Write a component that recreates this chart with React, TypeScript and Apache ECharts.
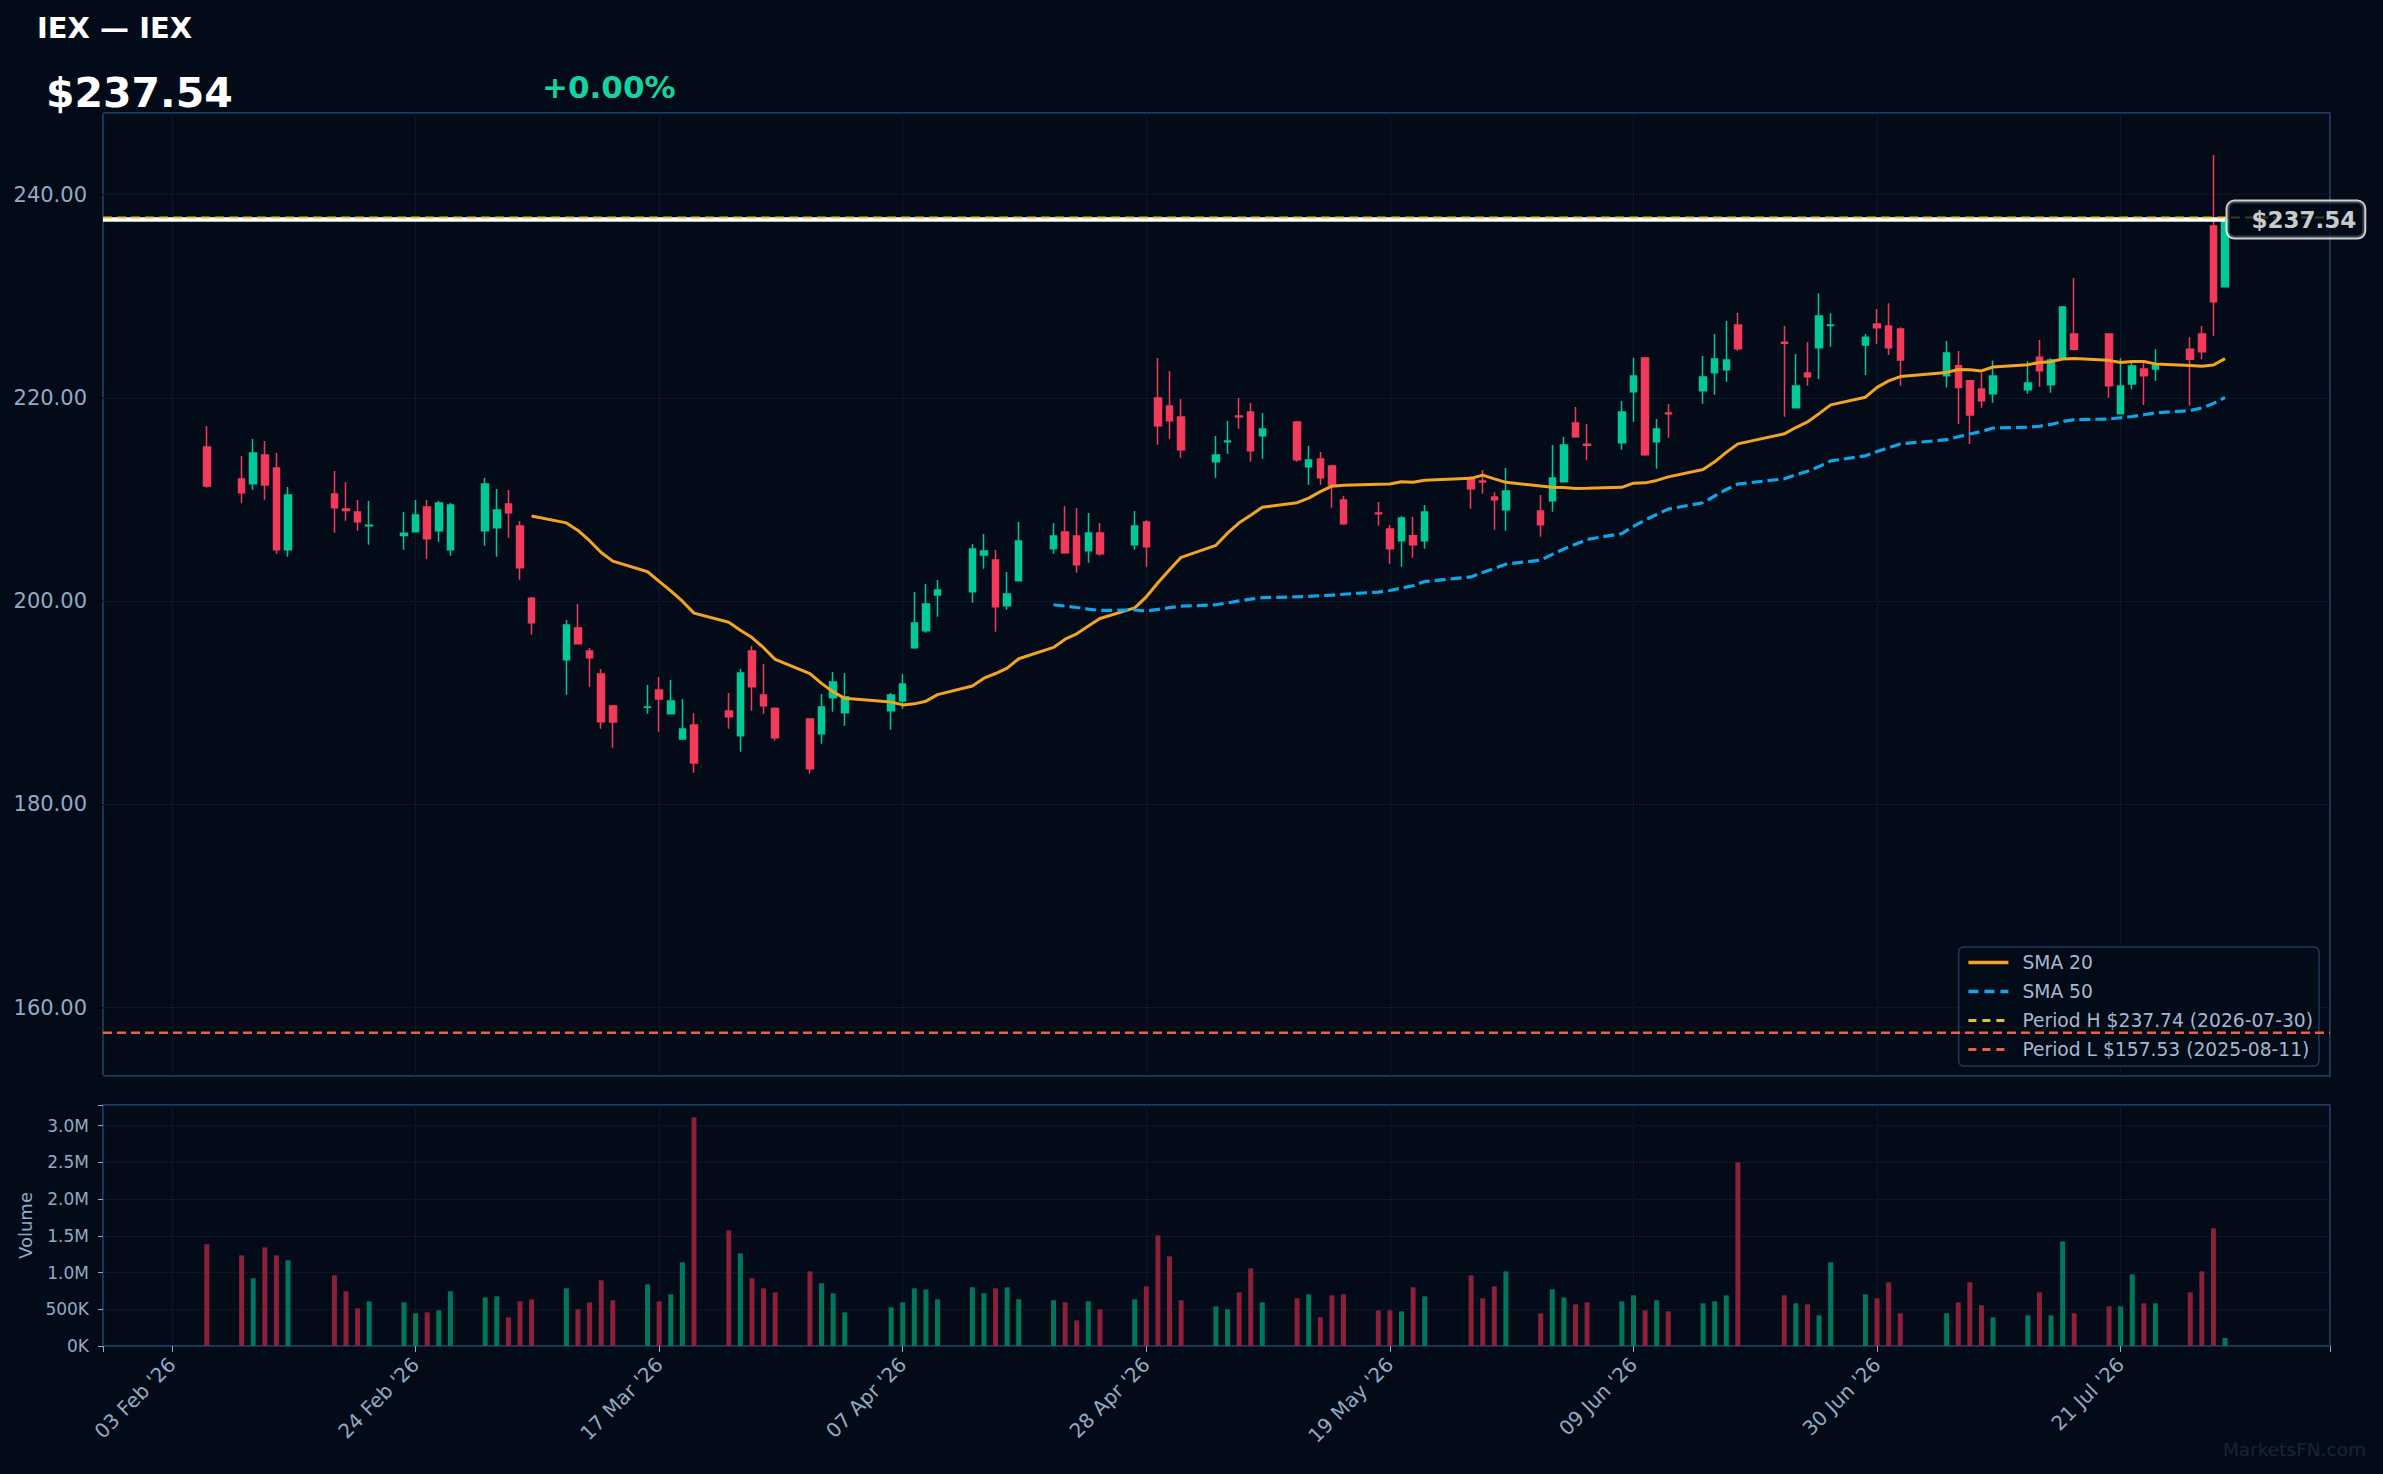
import React, { useEffect, useRef } from 'react';
import * as echarts from 'echarts';

// ---------- data ----------
const DATES = [
  '2026-02-06','2026-02-09','2026-02-10','2026-02-11','2026-02-12','2026-02-13','2026-02-17','2026-02-18','2026-02-19','2026-02-20','2026-02-23','2026-02-24','2026-02-25','2026-02-26','2026-02-27',
  '2026-03-02','2026-03-03','2026-03-04','2026-03-05','2026-03-06','2026-03-09','2026-03-10','2026-03-11','2026-03-12','2026-03-13','2026-03-16','2026-03-17','2026-03-18','2026-03-19','2026-03-20','2026-03-23','2026-03-24','2026-03-25','2026-03-26','2026-03-27','2026-03-30','2026-03-31',
  '2026-04-01','2026-04-02','2026-04-06','2026-04-07','2026-04-08','2026-04-09','2026-04-10','2026-04-13','2026-04-14','2026-04-15','2026-04-16','2026-04-17','2026-04-20','2026-04-21','2026-04-22','2026-04-23','2026-04-24','2026-04-27','2026-04-28','2026-04-29','2026-04-30',
  '2026-05-01','2026-05-04','2026-05-05','2026-05-06','2026-05-07','2026-05-08','2026-05-11','2026-05-12','2026-05-13','2026-05-14','2026-05-15','2026-05-18','2026-05-19','2026-05-20','2026-05-21','2026-05-22','2026-05-26','2026-05-27','2026-05-28','2026-05-29',
  '2026-06-01','2026-06-02','2026-06-03','2026-06-04','2026-06-05','2026-06-08','2026-06-09','2026-06-10','2026-06-11','2026-06-12','2026-06-15','2026-06-16','2026-06-17','2026-06-18','2026-06-22','2026-06-23','2026-06-24','2026-06-25','2026-06-26','2026-06-29','2026-06-30',
  '2026-07-01','2026-07-02','2026-07-06','2026-07-07','2026-07-08','2026-07-09','2026-07-10','2026-07-13','2026-07-14','2026-07-15','2026-07-16','2026-07-17','2026-07-20','2026-07-21','2026-07-22','2026-07-23','2026-07-24','2026-07-27','2026-07-28','2026-07-29','2026-07-30',
];

const OPEN = [
  215.16, 212.01, 211.55, 214.37, 213.09, 205.05, 210.53, 209.05, 208.76, 207.40, 206.46, 206.82, 209.25, 206.92, 205.05,
  206.92, 207.22, 209.55, 207.38, 200.27, 194.23, 197.35, 195.08, 192.82, 189.67, 189.54, 191.25, 188.92, 186.42, 187.80, 189.18, 186.75, 195.08, 190.75, 189.44, 188.39, 186.95,
  190.49, 189.02, 189.21, 190.16, 195.41, 197.08, 200.59, 200.92, 204.53, 204.04, 199.55, 202.00, 205.15, 206.79, 206.40, 204.96, 206.69, 205.55, 207.78, 219.98, 219.19,
  218.11, 213.71, 215.68, 218.21, 218.60, 216.27, 217.62, 213.22, 213.98, 213.29, 209.94, 208.66, 207.09, 205.94, 206.43, 205.94, 212.04, 211.81, 210.24, 208.99,
  208.86, 209.88, 211.75, 217.52, 215.42, 215.58, 220.60, 223.91, 215.68, 218.50, 220.70, 222.47, 222.77, 227.16, 225.46, 219.03, 222.44, 224.93, 227.10, 225.19, 227.26,
  227.06, 226.77, 222.18, 223.16, 221.68, 220.86, 220.40, 220.80, 223.98, 221.29, 223.88, 226.28, 226.28, 218.44, 221.36, 222.83, 222.83, 224.77, 226.28, 236.90, 230.93,
];

const HIGH = [
  217.22, 214.27, 215.94, 215.75, 214.57, 211.22, 212.79, 211.71, 209.94, 209.84, 208.76, 209.94, 209.94, 209.84, 209.65,
  212.11, 211.02, 210.92, 207.87, 200.40, 198.13, 199.71, 195.38, 193.31, 189.77, 191.74, 192.52, 192.23, 190.36, 188.95, 190.95, 193.31, 195.57, 193.80, 189.54, 188.46, 190.85,
  193.02, 192.92, 190.95, 192.82, 200.89, 201.67, 202.07, 205.61, 206.60, 205.02, 202.86, 207.78, 207.68, 209.35, 209.15, 208.66, 207.68, 208.86, 207.97, 223.91, 222.63,
  219.88, 216.24, 217.71, 219.98, 219.49, 218.50, 217.71, 215.29, 214.66, 213.42, 210.33, 209.75, 207.48, 208.37, 208.27, 209.45, 212.30, 212.89, 210.70, 213.09,
  210.43, 215.35, 216.14, 219.09, 217.42, 219.68, 223.91, 224.01, 217.91, 219.39, 224.11, 226.27, 227.55, 228.34, 227.06, 224.31, 225.46, 230.28, 228.31, 226.28, 228.74,
  229.29, 226.93, 225.59, 224.60, 221.75, 222.47, 223.68, 223.62, 225.69, 223.88, 229.03, 231.79, 226.34, 223.88, 223.72, 223.46, 224.77, 225.95, 227.06, 243.89, 237.74,
];

const LOW = [
  211.15, 209.68, 210.96, 209.97, 204.66, 204.37, 206.73, 207.91, 206.92, 205.55, 205.05, 206.75, 204.17, 205.84, 204.46,
  205.45, 204.37, 206.23, 202.10, 196.69, 190.79, 195.74, 191.57, 187.44, 185.57, 188.92, 187.15, 188.85, 186.35, 183.11, 187.44, 185.18, 189.21, 188.92, 186.26, 183.01, 185.97,
  189.11, 187.74, 187.34, 189.41, 195.30, 196.89, 198.46, 199.84, 203.18, 196.99, 199.15, 201.95, 204.66, 204.66, 202.79, 203.78, 204.46, 205.05, 203.38, 215.39, 215.98,
  214.11, 212.14, 214.50, 216.96, 213.71, 214.01, 213.71, 211.45, 211.45, 209.19, 207.50, 207.42, 203.68, 203.38, 204.27, 205.15, 209.09, 210.56, 207.02, 206.92,
  206.33, 208.79, 211.65, 216.07, 213.85, 214.89, 217.65, 214.30, 213.02, 216.07, 219.42, 220.31, 221.58, 224.63, 218.14, 218.95, 221.19, 221.85, 225.03, 222.24, 225.29,
  224.21, 221.19, 221.00, 217.42, 215.45, 219.03, 219.52, 220.40, 221.09, 220.50, 223.80, 224.64, 220.01, 218.40, 220.83, 219.29, 221.68, 219.22, 223.78, 226.11, 230.85,
];

const CLOSE = [
  211.32, 210.66, 214.57, 211.42, 205.05, 210.43, 209.19, 208.92, 207.81, 207.45, 206.66, 208.46, 206.14, 209.65, 209.45,
  211.51, 208.96, 208.69, 203.28, 197.87, 197.64, 195.80, 194.43, 188.13, 188.10, 189.57, 190.36, 190.16, 187.41, 184.06, 188.62, 192.92, 191.57, 189.70, 186.56, 183.51, 189.57,
  192.03, 190.59, 190.75, 191.84, 197.84, 199.71, 201.08, 205.12, 204.92, 199.45, 200.69, 205.91, 206.40, 204.76, 203.58, 206.69, 204.66, 207.38, 205.35, 217.26, 217.75,
  214.89, 214.37, 215.75, 218.14, 214.79, 216.93, 213.91, 213.88, 212.14, 211.42, 207.61, 208.60, 205.15, 208.17, 205.55, 208.76, 211.06, 211.71, 209.97, 210.83,
  207.52, 212.11, 215.35, 216.17, 215.32, 218.60, 222.14, 214.40, 216.93, 218.44, 222.04, 223.81, 223.72, 224.83, 225.36, 221.16, 222.08, 228.05, 227.16, 225.95, 226.90,
  224.93, 223.72, 224.41, 221.00, 218.31, 219.72, 222.14, 221.45, 222.67, 223.72, 228.93, 224.77, 221.19, 221.16, 223.13, 222.18, 223.23, 223.78, 224.54, 229.46, 237.54,
];

const VOLUME = [
  1384000, 1234000, 921000, 1343000, 1234000, 1166000, 962000, 744000, 513000, 608000, 594000, 445000, 458000, 485000, 744000,
  662000, 676000, 390000, 608000, 635000, 785000, 499000, 594000, 894000, 622000, 839000, 608000, 703000, 1139000, 3113000, 1574000, 1261000, 921000, 785000, 730000, 1016000, 853000,
  717000, 458000, 526000, 594000, 785000, 771000, 635000, 799000, 717000, 785000, 799000, 635000, 622000, 594000, 349000, 608000, 499000, 635000, 812000, 1506000, 1220000,
  622000, 540000, 499000, 730000, 1057000, 594000, 649000, 703000, 390000, 690000, 703000, 485000, 485000, 472000, 799000, 676000, 962000, 649000, 812000, 1016000,
  445000, 771000, 662000, 567000, 594000, 608000, 690000, 485000, 622000, 472000, 581000, 608000, 690000, 2500000, 690000, 581000, 567000, 417000, 1139000, 703000, 649000,
  867000, 445000, 445000, 594000, 867000, 554000, 390000, 417000, 730000, 417000, 1425000, 445000, 540000, 540000, 976000, 581000, 581000, 730000, 1016000, 1602000, 109000,
];

const X_TICK_LABELS = ["03 Feb '26", "24 Feb '26", "17 Mar '26", "07 Apr '26", "28 Apr '26", "19 May '26", "09 Jun '26", "30 Jun '26", "21 Jul '26"];
const PRICE_TICKS = [160, 180, 200, 220, 240];
const VOLUME_TICKS = [0, 500000, 1000000, 1500000, 2000000, 2500000, 3000000];
const VOLUME_TICK_LABELS = ['0K', '500K', '1.0M', '1.5M', '2.0M', '2.5M', '3.0M'];

const TICKER = 'IEX — IEX';
const LAST_PRICE = 237.54;
const CHANGE_TEXT = '+0.00%';
const PERIOD_HIGH = 237.74;
const PERIOD_HIGH_DATE = '2026-07-30';
const PERIOD_LOW = 157.53;
const PERIOD_LOW_DATE = '2025-08-11';

// ---------- styles ----------
const BG = '#020b17';
const UP = '#00c896';
const DOWN = '#f23a5b';
const VOL_UP = '#00765a';
const VOL_DOWN = '#8c1f3a';
const LABEL = '#93aac4';
const BORDER = '#1e3a5c';
const GRIDLINE = '#13233a';
const FONT = 'DejaVu Sans';
const C_SMA20 = '#f5a422';
const C_SMA50 = '#0ea5e9';
const C_HIGH = '#e0c230';
const C_LOW = '#e8643c';

const EPOCH = Date.UTC(2026, 1, 3);
const dayNum = (s: string) => {
  const [y, m, d] = s.split('-').map(Number);
  return Math.round((Date.UTC(y, m - 1, d) - EPOCH) / 86400000);
};
const X = DATES.map(dayNum);
const X_MIN = -5.95;
const X_MAX = 186.05;

const sma = (vals: number[], n: number) => {
  const out: number[][] = [];
  for (let i = n - 1; i < vals.length; i++) {
    let s = 0;
    for (let j = i - n + 1; j <= i; j++) s += vals[j];
    out.push([X[i], s / n]);
  }
  return out;
};

const NAME_H = `Period H $${PERIOD_HIGH.toFixed(2)} (${PERIOD_HIGH_DATE})`;
const NAME_L = `Period L $${PERIOD_LOW.toFixed(2)} (${PERIOD_LOW_DATE})`;

const isMult = (v: number, step: number) => Math.abs(v / step - Math.round(v / step)) < 1e-6;

function buildOption(): any {
  const candles = DATES.map((_, i) => [X[i], OPEN[i], CLOSE[i], LOW[i], HIGH[i]]);
  const vols = DATES.map((_, i) => ({
    value: [X[i], VOLUME[i]],
    itemStyle: { color: CLOSE[i] >= OPEN[i] ? VOL_UP : VOL_DOWN },
  }));
  const lastX = X[X.length - 1];

  const xFmt = (v: number) => (isMult(v, 21) ? X_TICK_LABELS[Math.round(v / 21)] ?? '' : '');
  const splitLine = { show: true, lineStyle: { color: GRIDLINE, type: 'dotted', width: 1 } };
  const noLine = { show: false, onZero: false };

  return {
    animation: false,
    backgroundColor: BG,
    textStyle: { fontFamily: FONT },
    grid: [
      { left: 103, right: 53, top: 113, height: 963, show: true, borderColor: BORDER, borderWidth: 2, backgroundColor: 'transparent' },
      { left: 103, right: 53, top: 1105, height: 241, show: true, borderColor: BORDER, borderWidth: 2, backgroundColor: 'transparent' },
    ],
    xAxis: [
      {
        type: 'value', gridIndex: 0, min: X_MIN, max: X_MAX, minInterval: 21, maxInterval: 21,
        axisLine: noLine, axisTick: { show: false }, axisLabel: { show: false }, splitLine,
      },
      {
        type: 'value', gridIndex: 1, min: X_MIN, max: X_MAX, minInterval: 21, maxInterval: 21,
        axisLine: noLine,
        axisTick: { show: true, length: 6, lineStyle: { color: LABEL, width: 1 } },
        axisLabel: { show: true, rotate: 45, margin: 15, fontSize: 20, color: LABEL, fontFamily: FONT, formatter: xFmt },
        splitLine,
      },
    ],
    yAxis: [
      {
        type: 'value', gridIndex: 0, min: 153.27, max: 248.02, minInterval: 20, maxInterval: 20,
        axisLine: noLine,
        axisTick: { show: true, length: 5, lineStyle: { color: '#000000', width: 1.5 } },
        axisLabel: {
          color: LABEL, fontSize: 21, fontFamily: FONT, margin: 16,
          formatter: (v: number) => (PRICE_TICKS.some((t) => Math.abs(t - v) < 1e-6) ? v.toFixed(2) : ''),
        },
        splitLine,
      },
      {
        type: 'value', gridIndex: 1, min: 0, max: 3280000, interval: 500000,
        name: 'Volume', nameLocation: 'middle', nameGap: 68,
        nameTextStyle: { color: LABEL, fontSize: 18, fontFamily: FONT },
        axisLine: noLine,
        axisTick: { show: true, length: 5, lineStyle: { color: LABEL, width: 1 } },
        axisLabel: {
          color: LABEL, fontSize: 17, fontFamily: FONT, margin: 14,
          formatter: (v: number) => {
            const k = VOLUME_TICKS.findIndex((t) => Math.abs(t - v) < 1);
            return k >= 0 ? VOLUME_TICK_LABELS[k] : '';
          },
        },
        splitLine,
      },
    ],
    legend: {
      data: [
        { name: 'SMA 20', lineStyle: { width: 3.5, color: C_SMA20 } },
        { name: 'SMA 50', lineStyle: { width: 3.5, color: C_SMA50, type: [10, 6] } },
        { name: NAME_H, lineStyle: { width: 3, color: C_HIGH, type: [8, 6] } },
        { name: NAME_L, lineStyle: { width: 3, color: C_LOW, type: [8, 6] } },
      ],
      orient: 'vertical',
      right: 64,
      bottom: 408,
      itemWidth: 40,
      itemHeight: 14,
      itemGap: 10,
      padding: [6, 6, 7, 8],
      backgroundColor: BG,
      borderColor: BORDER,
      borderWidth: 1.5,
      borderRadius: 5,
      itemStyle: { opacity: 0 },
      textStyle: { color: '#a6b8cf', fontSize: 18.7, fontFamily: FONT, padding: [0, 0, 0, 9] },
      selectedMode: false,
    },
    graphic: [
      { type: 'text', left: 37, top: 13, style: { text: TICKER, fill: '#ffffff', font: `bold 29px "${FONT}"` } },
      { type: 'text', left: 46, top: 72, style: { text: `$${LAST_PRICE.toFixed(2)}`, fill: '#ffffff', font: `bold 41px "${FONT}"` } },
      { type: 'text', left: 542, top: 71, style: { text: CHANGE_TEXT, fill: '#14d3a0', font: `bold 31px "${FONT}"` } },
      { type: 'text', right: 17, bottom: 15, style: { text: 'MarketsFN.com', fill: '#16263a', font: `18.5px "${FONT}"` } },
    ],
    series: [
      {
        type: 'candlestick', name: 'price', xAxisIndex: 0, yAxisIndex: 0, z: 2,
        data: candles, encode: { x: 0, y: [1, 2, 3, 4] }, barWidth: 7,
        itemStyle: { color: UP, color0: DOWN, borderColor: UP, borderColor0: DOWN, borderWidth: 1.5 },
      },
      {
        type: 'line', name: 'SMA 20', xAxisIndex: 0, yAxisIndex: 0, z: 3,
        data: sma(CLOSE, 20), symbol: 'none', showSymbol: false,
        lineStyle: { color: C_SMA20, width: 3 }, itemStyle: { color: C_SMA20 },
      },
      {
        type: 'line', name: 'SMA 50', xAxisIndex: 0, yAxisIndex: 0, z: 3,
        data: sma(CLOSE, 50), symbol: 'none', showSymbol: false,
        lineStyle: { color: C_SMA50, width: 3.2, type: [11, 5] }, itemStyle: { color: C_SMA50 },
      },
      {
        type: 'line', name: 'last', xAxisIndex: 0, yAxisIndex: 0, z: 4,
        data: [[X_MIN, LAST_PRICE], [lastX, LAST_PRICE]], symbol: 'none', showSymbol: false,
        lineStyle: { color: '#ffffff', width: 4.5 }, silent: true,
      },
      {
        type: 'line', name: NAME_H, xAxisIndex: 0, yAxisIndex: 0, z: 5,
        data: [[X_MIN, PERIOD_HIGH], [X_MAX, PERIOD_HIGH]], symbol: 'none', showSymbol: false,
        lineStyle: { color: C_HIGH, width: 2.2, type: [9, 5] }, itemStyle: { color: C_HIGH },
      },
      {
        type: 'line', name: NAME_L, xAxisIndex: 0, yAxisIndex: 0, z: 5,
        data: [[X_MIN, PERIOD_LOW], [X_MAX, PERIOD_LOW]], symbol: 'none', showSymbol: false,
        lineStyle: { color: C_LOW, width: 2.5, type: [9, 5] }, itemStyle: { color: C_LOW },
      },
      {
        type: 'scatter', name: 'lastLabel', xAxisIndex: 0, yAxisIndex: 0, z: 10,
        data: [[lastX, LAST_PRICE]], symbolSize: 1, itemStyle: { color: 'rgba(0,0,0,0)' },
        label: {
          show: true, position: 'right', distance: 2,
          formatter: () => `$${LAST_PRICE.toFixed(2)}`,
          color: '#ffffff', fontWeight: 'bold', fontSize: 23, fontFamily: FONT,
          backgroundColor: 'rgba(2,11,23,0.92)', borderColor: '#ffffff', borderWidth: 2, borderRadius: 7,
          padding: [7, 8, 6, 24],
        },
        silent: true,
      },
      {
        type: 'bar', name: 'Volume', xAxisIndex: 1, yAxisIndex: 1, data: vols, barWidth: 5,
      },
    ],
  };
}

export default function App() {
  const ref = useRef<HTMLDivElement>(null);
  useEffect(() => {
    const chart = echarts.init(ref.current as HTMLDivElement, undefined, { renderer: 'svg' });
    chart.setOption(buildOption());
    return () => chart.dispose();
  }, []);
  return (
    <div
      ref={ref}
      style={{ position: 'fixed', left: 0, top: 0, width: 2383, height: 1474, background: BG }}
    />
  );
}
